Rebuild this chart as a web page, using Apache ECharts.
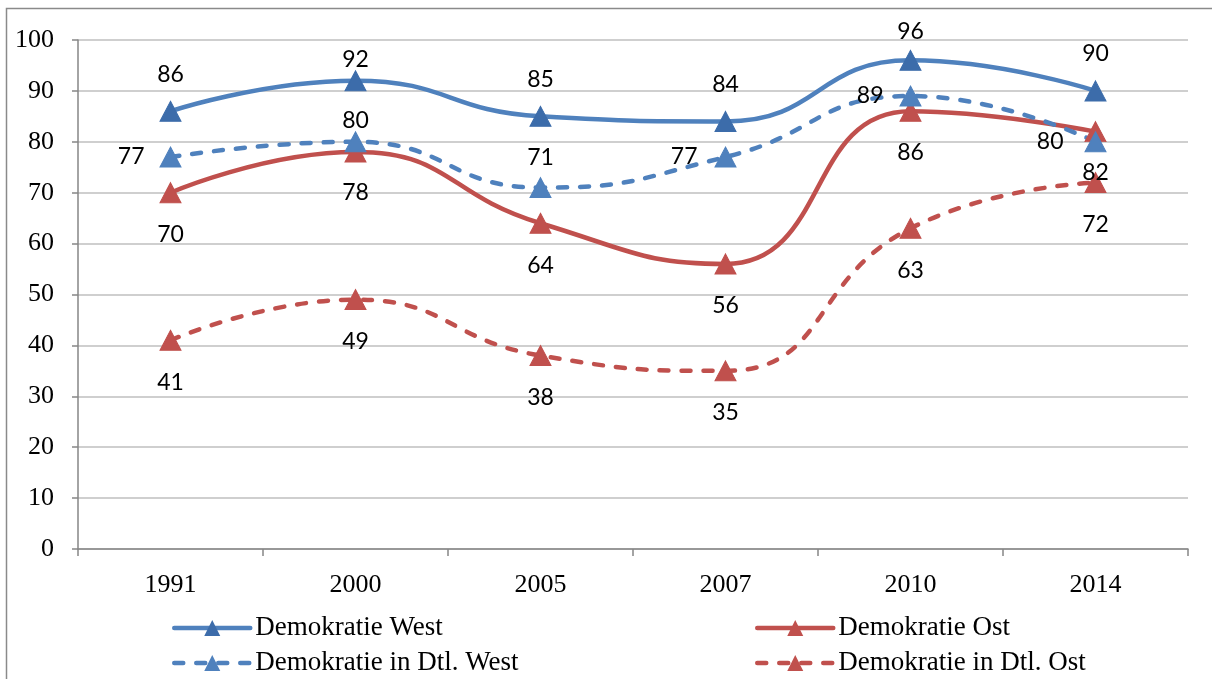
<!DOCTYPE html>
<html><head><meta charset="utf-8">
<script src="https://cdn.jsdelivr.net/npm/echarts@6/dist/echarts.min.js"></script>
<style>html,body{margin:0;padding:0;background:#fff}#c{width:1212px;height:679px}</style>
</head><body><div id="c"></div>
<script>
const categories = ['1991','2000','2005','2007','2010','2014'];
const demokratieWest = [86, 92, 85, 84, 96, 90];
const demokratieOst = [70, 78, 64, 56, 86, 82];
const demokratieDtlWest = [77, 80, 71, 77, 89, 80];
const demokratieDtlOst = [41, 49, 38, 35, 63, 72];

const BLUE = '#4F81BD', BLUE_D = '#3C6CAA', RED = '#C0504D';
const labelFont = {fontFamily: 'Lato', fontSize: 23, color: '#000'};
const serif = 'Liberation Serif';

function mk(name, values, color, markerColor, dashed, positions, distances) {
  return {
    name, type: 'line', smooth: 0.5, data: values.map((v, i) => ({
      value: v,
      label: {position: positions[i], distance: distances[i]}
    })),
    symbol: 'triangle', symbolSize: [21, 20],
    lineStyle: {color, width: 4.5, type: dashed ? [9, 13] : 'solid', cap: 'round'},
    itemStyle: {color: markerColor, borderColor: markerColor},
    label: Object.assign({show: true, distance: 15}, labelFont),
    emphasis: {disabled: true}
  };
}

function legendAt(left, names) {
  return {
    orient: 'vertical', left, top: 614, padding: 0, itemWidth: 76, itemHeight: 20, itemGap: 7,
    data: names,
    textStyle: {fontFamily: serif, fontSize: 27, lineHeight: 28, color: '#000'},
    lineStyle: {width: 4.5}
  };
}

const chart = echarts.init(document.getElementById('c'));
chart.setOption({
  animation: false,
  graphic: [{type: 'rect', shape: {x: 6.5, y: 8.5, width: 1300, height: 800},
    style: {fill: 'none', stroke: '#8a8a8a', lineWidth: 1.5}, z: -10}],
  grid: {left: 78, right: 24, top: 40, bottom: 130},
  legend: [
    legendAt(172, ['Demokratie West', 'Demokratie in Dtl. West']),
    legendAt(755, ['Demokratie Ost', 'Demokratie in Dtl. Ost'])
  ],
  xAxis: {
    type: 'category', data: categories, boundaryGap: true,
    axisLine: {lineStyle: {color: '#868686', width: 1.5}},
    axisTick: {show: true, length: 7, lineStyle: {color: '#868686', width: 1.5}},
    axisLabel: {fontFamily: serif, fontSize: 26, color: '#000', margin: 23}
  },
  yAxis: {
    type: 'value', min: 0, max: 100, interval: 10,
    axisLine: {show: true, lineStyle: {color: '#868686', width: 1.5}},
    axisTick: {show: true, length: 6, lineStyle: {color: '#868686', width: 1.5}},
    axisLabel: {fontFamily: serif, fontSize: 26, color: '#000', margin: 24},
    splitLine: {lineStyle: {color: '#BFBFBF', width: 1.5}}
  },
  series: [
    mk('Demokratie West', demokratieWest, BLUE, BLUE_D, false,
       ['top','top','top','top','top','top'], [15, -1, 15, 15, 7, 15]),
    mk('Demokratie Ost', demokratieOst, RED, RED, false,
       ['bottom','bottom','bottom','bottom','bottom','bottom'], [20, 19, 20, 20, 19, 19]),
    mk('Demokratie in Dtl. West', demokratieDtlWest, BLUE, BLUE, true,
       ['left','top','top','left','left','left'], [15, -1, 8, 17, 16, 21]),
    mk('Demokratie in Dtl. Ost', demokratieDtlOst, RED, RED, true,
       ['bottom','bottom','bottom','bottom','bottom','bottom'], [20, 20, 20, 20, 20, 20])
  ]
});
</script></body></html>
